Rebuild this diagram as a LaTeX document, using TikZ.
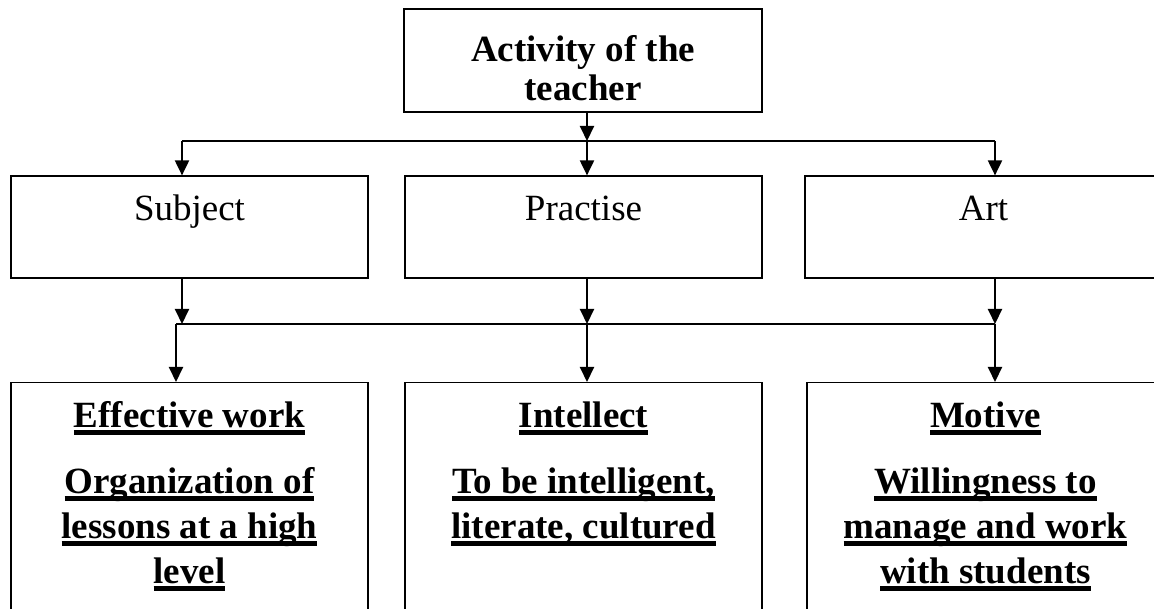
\documentclass[tikz,border=0pt]{standalone}
\usepackage{fontspec}
\setmainfont{Liberation Serif}
\usetikzlibrary{arrows.meta}
\newsavebox{\ulsave}
\newcommand{\ulbox}[1]{\leavevmode\sbox{\ulsave}{#1}\rlap{\rule[-7pt]{\wd\ulsave}{4.2pt}}\usebox{\ulsave}}

\tikzset{
  >={Triangle[length=15pt,width=14pt]},
  topbox/.style={draw,line width=1.2pt,inner sep=2pt,minimum width=358pt,minimum height=103pt,align=center,font=\fontsize{37}{39}\selectfont\bfseries},
  midbox/.style={draw,line width=1.2pt,minimum width=357pt,minimum height=102pt,text height=25pt,text depth=37pt,font=\fontsize{37}{45}\selectfont},
  lowbox/.style={draw,line width=1.2pt,inner sep=0pt,anchor=north,font=\fontsize{37}{45}\selectfont\bfseries},
  link/.style={line width=1.2pt},
  flow/.style={->,line width=2pt}
}

\begin{document}
\begin{tikzpicture}[x=1pt,y=-1pt]
    \useasboundingbox (0,0) rectangle (1154,609);
    \node[topbox] (act) at (583,60.5) {\rule{0pt}{41pt}Activity of the\\teacher};
    \node[midbox] (subj) at (189.5,227) {Subject};
    \node[midbox] (prac) at (583.5,227) {Practise};
    \node[midbox] (art) at (983.5,227) {Art};
    \node[lowbox] (eff) at (189.5,382) {\parbox[c][258pt][t]{357pt}{\centering\rule{0pt}{45pt}\ulbox{Effective work}\\[21pt]
        \ulbox{Organization of}\\ \ulbox{lessons at a high}\\ \ulbox{level}}};
    \node[lowbox] (intel) at (583.5,382) {\parbox[c][258pt][t]{357pt}{\centering\rule{0pt}{45pt}\ulbox{Intellect}\\[21pt]
        \ulbox{To be intelligent,}\\ \ulbox{literate, cultured}}};
    \node[lowbox] (motiv) at (985.5,382) {\parbox[c][258pt][t]{357pt}{\centering\rule{0pt}{45pt}\ulbox{Motive}\\[21pt]
        \ulbox{Willingness to}\\ \ulbox{manage and work}\\ \ulbox{with students}}};
    % junctions
    \coordinate (hub1) at (587,141);
    \coordinate (hub1l) at (182,141);
    \coordinate (hub1r) at (995,141);
    \coordinate (hub2) at (587,324);
    \coordinate (hub2l) at (176,324);
    \coordinate (hub2r) at (995,324);
    \draw[flow] (act.south -| hub1) -- (hub1);
    \draw[link] (hub1l) -- (hub1r);
    \draw[flow] (hub1l) -- (hub1l |- subj.north);
    \draw[flow] (hub1) -- (hub1 |- prac.north);
    \draw[flow] (hub1r) -- (hub1r |- art.north);
    \draw[flow] (subj.south -| hub1l) -- (hub1l |- hub2);
    \draw[flow] (prac.south -| hub2) -- (hub2);
    \draw[flow] (art.south -| hub2r) -- (hub2r);
    \draw[link] (hub2l) -- (hub2r);
    \draw[flow] (hub2l) -- (hub2l |- eff.north);
    \draw[flow] (hub2) -- (hub2 |- intel.north);
    \draw[flow] (hub2r) -- (hub2r |- motiv.north);
\end{tikzpicture}
\end{document}
